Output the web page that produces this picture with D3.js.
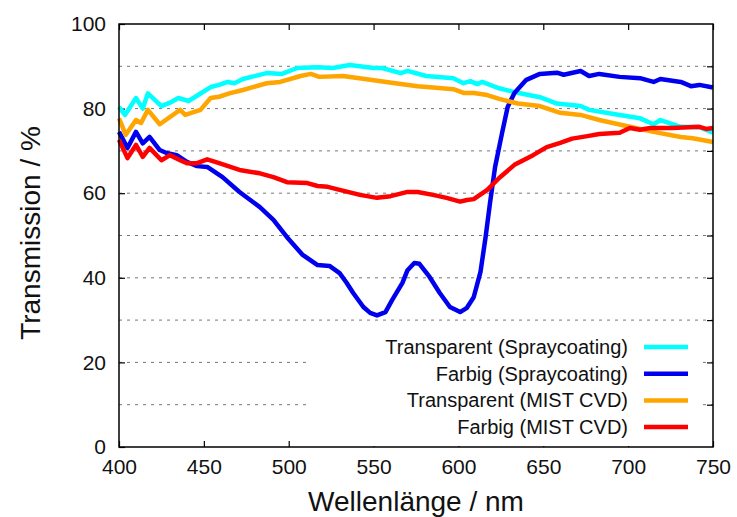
<!DOCTYPE html>
<html>
<head>
<meta charset="utf-8">
<script src="https://cdn.jsdelivr.net/npm/d3@7"></script>
<style>
body{margin:0;background:#fff}
text{font-family:"Liberation Sans",Arial,sans-serif;fill:#111}
</style>
</head>
<body>
<script>
// [wavelength nm, transmission %]
const transSpray=[[400,80.4],[403.5,78.5],[410,82.5],[414,80],[417,83.6],[425,80.6],[430,81.4],[435,82.5],[441,81.8],[445,82.8],[454,85.1],[459,85.6],[464,86.3],[468,86],[473,87],[487,88.4],[496,88.2],[505,89.6],[517,89.8],[526,89.6],[536,90.3],[550,89.6],[555,89.6],[566,88.4],[570,88.9],[581,87.7],[597,87.2],[603,86],[607,86.5],[611,85.8],[614,86.3],[624,84.8],[632,84],[648,82.7],[658,81.2],[672,80.6],[677,79.7],[695,78.5],[707,77.7],[715,76.3],[719,77.3],[731,75.7],[742,75.6],[750,74.3]]
const farbigSpray=[[400,74.5],[405,70.7],[410,74.5],[414,71.8],[418,73.3],[424,70.2],[428,69.5],[434,69],[440,67.4],[446,66.4],[452,66.2],[461,63.8],[471,60.3],[483,56.7],[491,53.7],[499,49.6],[508,45.5],[517,43],[524,42.8],[530,41.1],[534,38.9],[538,36.4],[544,33.1],[548,31.7],[552,31.1],[557,31.9],[561,34.8],[567,38.8],[570,41.8],[574,43.5],[577,43.3],[583,40.2],[589,36.4],[595,33.1],[601,31.9],[605,32.9],[609,35.4],[613,41.4],[616,49.6],[618.6,57.7],[621.6,66.2],[625.7,74.2],[629,80.4],[633,83.7],[640,86.8],[648,88.2],[658,88.5],[662,88],[672,88.9],[677,87.7],[683,88.2],[695,87.5],[707,87.2],[715,86.3],[719,87],[731,86.3],[737,85.3],[742,85.6],[750,85]]
const transMist=[[400,77.7],[404,73.8],[410,77.3],[413,76.6],[417,79.7],[424,76.3],[436,79.7],[439,78.5],[448,79.7],[454,82.5],[459,82.8],[465,83.6],[473,84.4],[487,86],[495,86.3],[507,87.7],[513,88.2],[518,87.5],[532,87.7],[548,86.8],[566,85.8],[576,85.3],[585,85],[597,84.6],[603,83.7],[609,83.7],[617,83.2],[624,82.3],[635,81.2],[648,80.6],[660,79],[672,78.5],[683,77.3],[699,75.9],[715,74.5],[731,73.3],[738,73],[750,72.1]]
const farbigMist=[[400,72.6],[405,68.3],[410,71.4],[414,68.6],[418,70.7],[425,67.8],[430,69],[436,67.8],[440,67.1],[446,67.1],[452,68],[459,67.1],[471,65.5],[483,64.7],[491,63.8],[499,62.6],[511,62.4],[517,61.7],[523,61.5],[530,60.8],[542,59.6],[552,58.9],[560,59.3],[570,60.3],[576,60.3],[585,59.6],[593,58.9],[601,58],[605,58.4],[609,58.6],[617,60.8],[624,63.6],[633,66.7],[644,69],[652,70.9],[660,71.9],[667,72.9],[676,73.5],[683,74],[695,74.3],[701,75.4],[707,75],[713,75.4],[726,75.4],[742,75.7],[746,75.2],[750,75.4]]

const seriesNames=["Transparent (Spraycoating)","Farbig (Spraycoating)","Transparent (MIST CVD)","Farbig (MIST CVD)"]
const seriesColors=["#00ffff","#0000ee","#ffa500","#ff0000"]
const seriesData=[transSpray,farbigSpray,transMist,farbigMist]

const xTicks=[400,450,500,550,600,650,700,750]
const yTicks=[0,20,40,60,80,100]
const yGrid=[10,20,30,40,50,60,70,80,90]

const W=737,H=517
const m={left:119,right:24,top:24,bottom:70}

const svg=d3.select("body").append("svg")
	.attr("width",W)
	.attr("height",H)

const x=d3.scaleLinear().domain([400,750]).range([m.left,W-m.right])
const y=d3.scaleLinear().domain([0,100]).range([H-m.bottom,m.top])

// grid
svg.append("g").selectAll("line").data(yGrid).enter().append("line")
	.attr("x1",x(400)).attr("x2",x(750))
	.attr("y1",d=>y(d)).attr("y2",d=>y(d))
	.attr("stroke","#777")
	.attr("stroke-width",1)
	.attr("stroke-dasharray","3,5")

// axes, ticks inside
const axB=svg.append("g").attr("transform","translate(0,"+y(0)+")")
	.call(d3.axisBottom(x).tickValues(xTicks).tickSize(-6).tickPadding(12).tickFormat(d3.format("d")))
const axT=svg.append("g").attr("transform","translate(0,"+y(100)+")")
	.call(d3.axisTop(x).tickValues(xTicks).tickSize(-6).tickFormat(""))
const axL=svg.append("g").attr("transform","translate("+x(400)+",0)")
	.call(d3.axisLeft(y).tickValues(yTicks).tickSize(-6).tickPadding(12))
const axR=svg.append("g").attr("transform","translate("+x(750)+",0)")
	.call(d3.axisRight(y).tickValues(yGrid).tickSize(-6).tickFormat(""))
for(const a of [axB,axT,axL,axR]){
	a.selectAll(".domain").remove()
	a.selectAll("line").attr("stroke","#000").attr("stroke-width",1.2)
	a.selectAll("text").attr("font-size",21).attr("font-family","Liberation Sans, Arial, sans-serif").attr("fill","#111")
}
axB.selectAll("text").attr("dy","0.71em")
axL.selectAll("text").attr("dx","-1")

// legend box (opaque)
svg.append("rect")
	.attr("x",307).attr("y",330)
	.attr("width",393).attr("height",y(0)-331)
	.attr("fill","#fff")

// lines
const line=d3.line().x(d=>x(d[0])).y(d=>y(d[1]))
svg.append("g").selectAll("path").data(seriesData).enter().append("path")
	.attr("d",line)
	.attr("fill","none")
	.attr("stroke",(d,i)=>seriesColors[i])
	.attr("stroke-width",4.5)
	.attr("stroke-linejoin","round")

// frame
svg.append("rect")
	.attr("x",x(400)).attr("y",y(100))
	.attr("width",x(750)-x(400)).attr("height",y(0)-y(100))
	.attr("fill","none").attr("stroke","#000").attr("stroke-width",1.5)

// legend
const leg=svg.append("g").selectAll("g").data(seriesNames).enter().append("g")
	.attr("transform",(d,i)=>"translate(0,"+(347+i*26.7)+")")
leg.append("text")
	.attr("x",628).attr("dy","0.35em")
	.attr("text-anchor","end")
	.attr("font-size",20)
	.text(d=>d)
leg.append("line")
	.attr("x1",644).attr("x2",688)
	.attr("stroke",(d,i)=>seriesColors[i])
	.attr("stroke-width",4.5)

// axis titles
svg.append("text")
	.attr("x",416).attr("y",511)
	.attr("text-anchor","middle")
	.attr("font-size",28)
	.text("Wellenlänge / nm")
svg.append("text")
	.attr("transform","translate(40,233) rotate(-90)")
	.attr("text-anchor","middle")
	.attr("font-size",28)
	.text("Transmission / %")
</script>
</body>
</html>
